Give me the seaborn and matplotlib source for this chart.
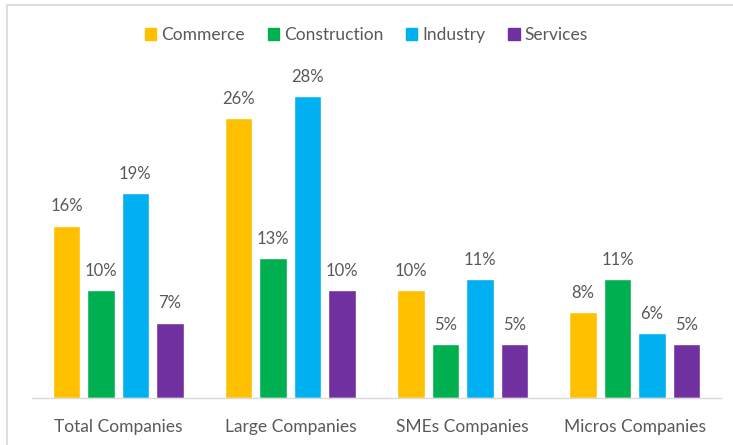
import matplotlib
matplotlib.use("Agg")
import matplotlib.pyplot as plt
import seaborn as sns
import pandas as pd
from matplotlib.lines import Line2D

groups = ["Total Companies", "Large Companies", "SMEs Companies", "Micros Companies"]
sectors = ["Commerce", "Construction", "Industry", "Services"]
commerce = [16, 26, 10, 8]
construction = [10, 13, 5, 11]
industry = [19, 28, 11, 6]
services = [7, 10, 5, 5]
colors = ["#FFC000", "#00B050", "#00B0F0", "#7030A0"]

values = {"Commerce": commerce, "Construction": construction,
          "Industry": industry, "Services": services}
df = pd.DataFrame([
    {"group": g, "sector": s, "pct": values[s][i]}
    for s in sectors for i, g in enumerate(groups)
])

sns.set_theme(style="white")
plt.rcParams["font.family"] = ["Lato", "DejaVu Sans"]

fig = plt.figure(figsize=(7.33, 4.45), dpi=100)
ax = fig.add_axes([32 / 733, 47 / 445, 689 / 733, (398 - 74.6) / 445])

sns.barplot(data=df, x="group", y="pct", hue="sector", order=groups,
            hue_order=sectors, palette=colors, width=0.8, gap=0.2,
            saturation=1, ax=ax, legend=False)

ax.set_ylim(0, 30)
ax.set_xlim(-0.5, 3.5)
ax.set_xlabel("")
ax.set_ylabel("")
ax.set_yticks([])
for side in ["top", "right", "left"]:
    ax.spines[side].set_visible(False)
ax.spines["bottom"].set_color("#D9D9D9")
ax.spines["bottom"].set_linewidth(1.0)
ax.tick_params(axis="x", length=0, pad=15, labelsize=12.5, labelcolor="#595959")

for container in ax.containers:
    ax.bar_label(container, fmt="%d%%", padding=8, fontsize=12, color="#595959")

handles = [plt.Rectangle((0, 0), 1, 1, color=c) for c in colors]
fig.legend(handles, sectors, loc="center", bbox_to_anchor=(0.5, 1 - 35 / 445),
           ncol=4, frameon=False, fontsize=12.5, labelcolor="#595959",
           handlelength=0.65, handleheight=0.65, handletextpad=0.3,
           columnspacing=1.3)

# outer frame: top and left edges
fig.add_artist(Line2D([7 / 733, 1.0], [1 - 5 / 445, 1 - 5 / 445],
                      transform=fig.transFigure, color="#D9D9D9", lw=1.2))
fig.add_artist(Line2D([7 / 733, 7 / 733], [0, 1 - 5 / 445],
                      transform=fig.transFigure, color="#D9D9D9", lw=1.2))

fig.savefig("out.png", dpi=100, facecolor="white")
